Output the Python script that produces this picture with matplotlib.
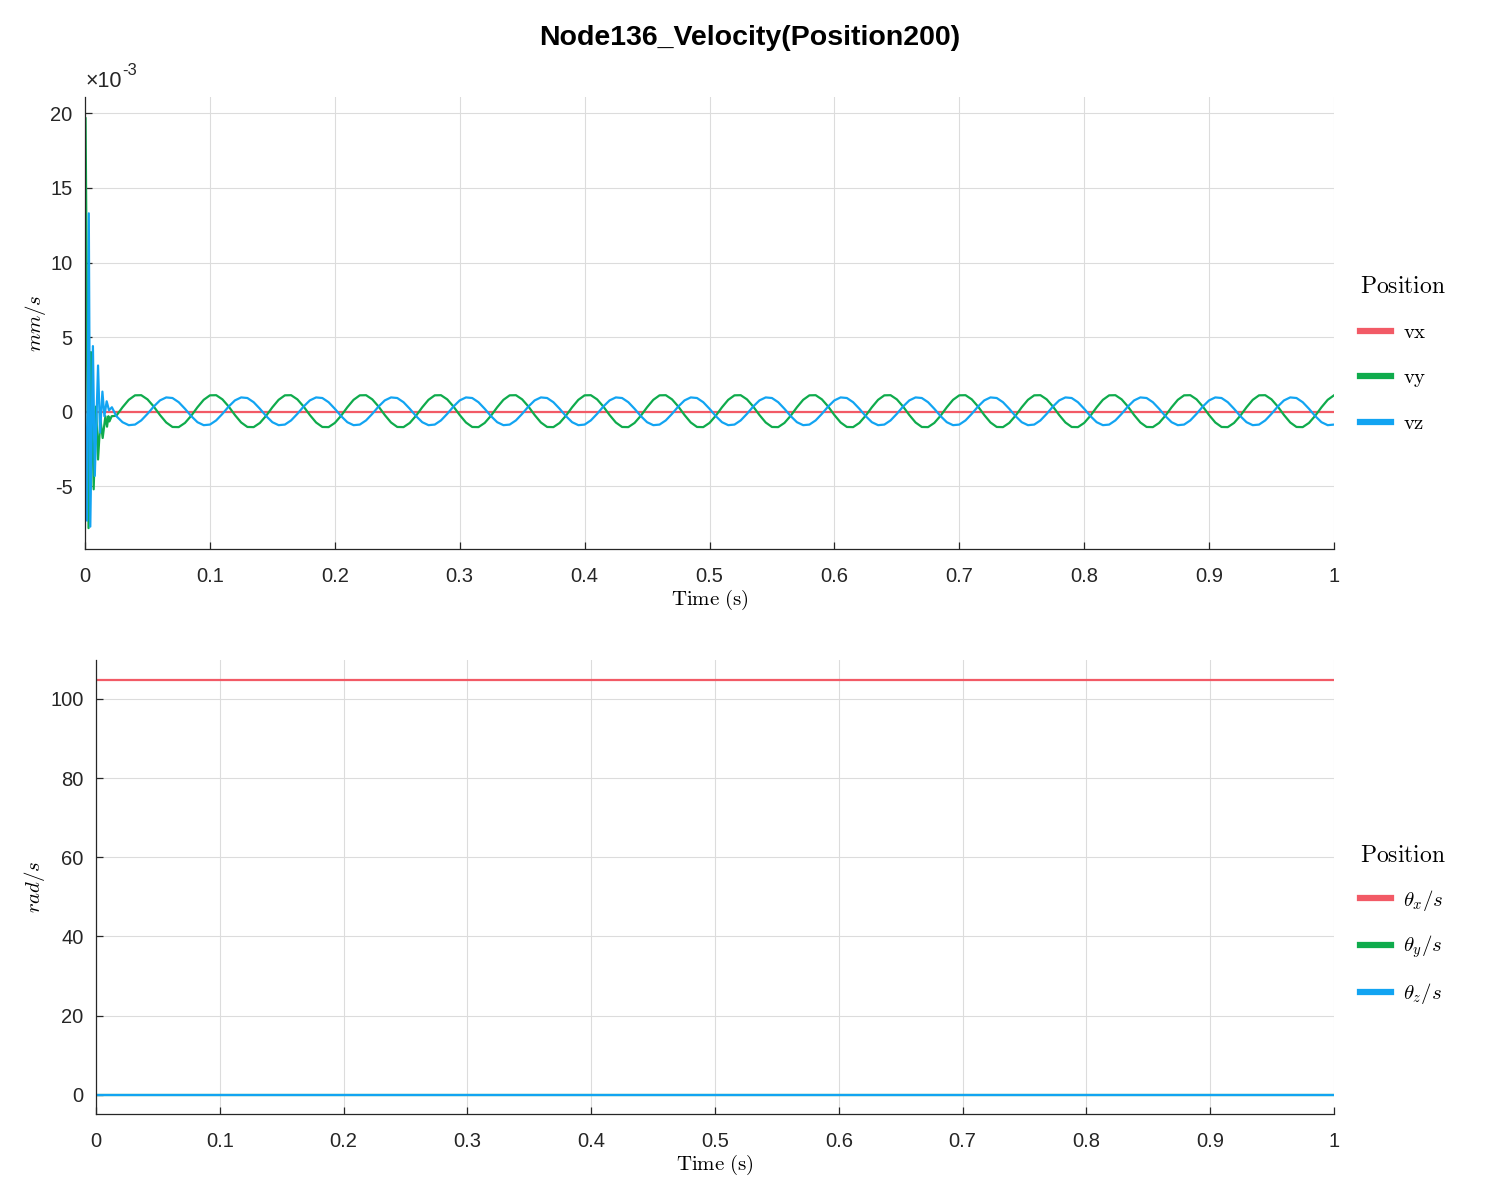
import numpy as np
import matplotlib
matplotlib.use('Agg')
import matplotlib.pyplot as plt
from matplotlib.ticker import FuncFormatter

plt.rcParams['font.family'] = ['Liberation Sans', 'DejaVu Sans']
plt.rcParams['mathtext.fontset'] = 'cm'
plt.rcParams['axes.unicode_minus'] = False

# colours of the three components
c_x = '#f25a66'
c_y = '#0fab4c'
c_z = '#12a4f2'

# ---- translational velocity (values in 1e-3 mm/s) ----
vx_t = [0.0, 1.0]
vx = [0.0, 0.0]

# start-up transient
vy_start_t = [0.0, 0.0004, 0.0028, 0.0047, 0.0069, 0.0088, 0.0104, 0.0123, 0.0141,
              0.0163, 0.0176, 0.0187, 0.0195, 0.0213]
vy_start = [0.0, 19.7, -7.8, 4.0, -5.2, 0.35, -3.2, -0.5, -1.76,
            -0.3, -1.0, -0.3, -0.65, -0.3]
vz_start_t = [0.0, 0.0016, 0.0030, 0.0042, 0.0063, 0.0078, 0.0104, 0.0120, 0.0139,
              0.0155, 0.0173, 0.0192, 0.0215]
vz_start = [0.0, -7.3, 13.3, -7.7, 4.4, -4.3, 3.1, -1.4, 1.35,
            -0.3, 0.7, 0.1, 0.3]

# steady part, read every 0.005 s from t = 0.025 s to 1 s (one row = one period)
wave_t0 = 0.025
wave_dt = 0.005
vy_wave = [
    -0.27, 0.30, 0.80, 1.10, 1.11, 0.83, 0.35, -0.22, -0.72, -1.02, -1.03, -0.75,
    -0.27, 0.30, 0.80, 1.10, 1.11, 0.83, 0.35, -0.22, -0.72, -1.02, -1.03, -0.75,
    -0.27, 0.30, 0.80, 1.10, 1.11, 0.83, 0.35, -0.22, -0.72, -1.02, -1.03, -0.75,
    -0.27, 0.30, 0.80, 1.10, 1.11, 0.83, 0.35, -0.22, -0.72, -1.02, -1.03, -0.75,
    -0.27, 0.30, 0.80, 1.10, 1.11, 0.83, 0.35, -0.22, -0.72, -1.02, -1.03, -0.75,
    -0.27, 0.30, 0.80, 1.10, 1.11, 0.83, 0.35, -0.22, -0.72, -1.02, -1.03, -0.75,
    -0.27, 0.30, 0.80, 1.10, 1.11, 0.83, 0.35, -0.22, -0.72, -1.02, -1.03, -0.75,
    -0.27, 0.30, 0.80, 1.10, 1.11, 0.83, 0.35, -0.22, -0.72, -1.02, -1.03, -0.75,
    -0.27, 0.30, 0.80, 1.10, 1.11, 0.83, 0.35, -0.22, -0.72, -1.02, -1.03, -0.75,
    -0.27, 0.30, 0.80, 1.10, 1.11, 0.83, 0.35, -0.22, -0.72, -1.02, -1.03, -0.75,
    -0.27, 0.30, 0.80, 1.10, 1.11, 0.83, 0.35, -0.22, -0.72, -1.02, -1.03, -0.75,
    -0.27, 0.30, 0.80, 1.10, 1.11, 0.83, 0.35, -0.22, -0.72, -1.02, -1.03, -0.75,
    -0.27, 0.30, 0.80, 1.10, 1.11, 0.83, 0.35, -0.22, -0.72, -1.02, -1.03, -0.75,
    -0.27, 0.30, 0.80, 1.10, 1.11, 0.83, 0.35, -0.22, -0.72, -1.02, -1.03, -0.75,
    -0.27, 0.30, 0.80, 1.10, 1.11, 0.83, 0.35, -0.22, -0.72, -1.02, -1.03, -0.75,
    -0.27, 0.30, 0.80, 1.10, 1.11, 0.83, 0.35, -0.22, -0.72, -1.02, -1.03, -0.75,
    -0.27, 0.30, 0.80, 1.10,
]
vz_wave = [
    -0.29, -0.70, -0.90, -0.86, -0.58, -0.14, 0.35, 0.76, 0.96, 0.92, 0.64, 0.20,
    -0.29, -0.70, -0.90, -0.86, -0.58, -0.14, 0.35, 0.76, 0.96, 0.92, 0.64, 0.20,
    -0.29, -0.70, -0.90, -0.86, -0.58, -0.14, 0.35, 0.76, 0.96, 0.92, 0.64, 0.20,
    -0.29, -0.70, -0.90, -0.86, -0.58, -0.14, 0.35, 0.76, 0.96, 0.92, 0.64, 0.20,
    -0.29, -0.70, -0.90, -0.86, -0.58, -0.14, 0.35, 0.76, 0.96, 0.92, 0.64, 0.20,
    -0.29, -0.70, -0.90, -0.86, -0.58, -0.14, 0.35, 0.76, 0.96, 0.92, 0.64, 0.20,
    -0.29, -0.70, -0.90, -0.86, -0.58, -0.14, 0.35, 0.76, 0.96, 0.92, 0.64, 0.20,
    -0.29, -0.70, -0.90, -0.86, -0.58, -0.14, 0.35, 0.76, 0.96, 0.92, 0.64, 0.20,
    -0.29, -0.70, -0.90, -0.86, -0.58, -0.14, 0.35, 0.76, 0.96, 0.92, 0.64, 0.20,
    -0.29, -0.70, -0.90, -0.86, -0.58, -0.14, 0.35, 0.76, 0.96, 0.92, 0.64, 0.20,
    -0.29, -0.70, -0.90, -0.86, -0.58, -0.14, 0.35, 0.76, 0.96, 0.92, 0.64, 0.20,
    -0.29, -0.70, -0.90, -0.86, -0.58, -0.14, 0.35, 0.76, 0.96, 0.92, 0.64, 0.20,
    -0.29, -0.70, -0.90, -0.86, -0.58, -0.14, 0.35, 0.76, 0.96, 0.92, 0.64, 0.20,
    -0.29, -0.70, -0.90, -0.86, -0.58, -0.14, 0.35, 0.76, 0.96, 0.92, 0.64, 0.20,
    -0.29, -0.70, -0.90, -0.86, -0.58, -0.14, 0.35, 0.76, 0.96, 0.92, 0.64, 0.20,
    -0.29, -0.70, -0.90, -0.86, -0.58, -0.14, 0.35, 0.76, 0.96, 0.92, 0.64, 0.20,
    -0.29, -0.70, -0.90, -0.86,
]

# ---- rotational velocity (rad/s) ----
rot_t = [0.0, 1.0]
theta_x = [104.72, 104.72]
theta_y = [0.0, 0.0]
theta_z = [0.0, 0.0]

x_ticks = [0, 0.1, 0.2, 0.3, 0.4, 0.5, 0.6, 0.7, 0.8, 0.9, 1]
top_yticks = [-5, 0, 5, 10, 15, 20]
bot_yticks = [0, 20, 40, 60, 80, 100]

wave_t = wave_t0 + wave_dt * np.arange(len(vy_wave))
t_y = np.concatenate([vy_start_t, wave_t])
t_z = np.concatenate([vz_start_t, wave_t])
vy_all = np.concatenate([vy_start, vy_wave]) * 1e-3
vz_all = np.concatenate([vz_start, vz_wave]) * 1e-3
vx_all = np.array(vx) * 1e-3

fig = plt.figure(figsize=(15, 12), dpi=100)
ax1 = fig.add_axes([0.0567, 0.5425, 0.8326, 0.3767])
ax2 = fig.add_axes([0.064, 0.0717, 0.8253, 0.3783])

lw = 1.6
ax1.plot(vx_t, vx_all, color=c_x, lw=lw, label=r'$\mathrm{vx}$')
ax1.plot(t_y, vy_all, color=c_y, lw=lw, label=r'$\mathrm{vy}$')
ax1.plot(t_z, vz_all, color=c_z, lw=lw, label=r'$\mathrm{vz}$')

ax2.plot(rot_t, theta_x, color=c_x, lw=lw, label=r'$\theta_x/s$')
ax2.plot(rot_t, theta_y, color=c_y, lw=lw, label=r'$\theta_y/s$')
ax2.plot(rot_t, theta_z, color=c_z, lw=lw, label=r'$\theta_z/s$')

ax1.set_ylim(-9.2e-3, 21.1e-3)
ax1.set_yticks(np.array(top_yticks) * 1e-3)
ax1.yaxis.set_major_formatter(FuncFormatter(lambda v, p: '%g' % round(v * 1e3, 6)))
ax2.set_ylim(-4.8, 109.8)
ax2.set_yticks(bot_yticks)

legend_setup = [(ax1, 0.43, 1.22), (ax2, 0.415, 1.0)]
for ax, leg_y, spacing in legend_setup:
    ax.set_xlim(0, 1)
    ax.set_xticks(x_ticks)
    ax.set_xticklabels(['%g' % v for v in x_ticks])
    ax.grid(True, color='#dcdcdc', lw=0.8)
    ax.set_axisbelow(True)
    for s in ('top', 'right'):
        ax.spines[s].set_visible(False)
    for s in ('left', 'bottom'):
        ax.spines[s].set_color('#262626')
        ax.spines[s].set_linewidth(0.9)
    ax.tick_params(direction='in', length=5, width=0.9, color='#262626',
                   labelsize=14.5, labelcolor='#262626', pad=9)
    ax.tick_params(axis='x', pad=13)
    ax.set_xlabel(r'$\mathrm{Time\ (s)}$', fontsize=15, labelpad=1)
    leg = ax.legend(loc='center left', bbox_to_anchor=(1.006, leg_y), frameon=False,
                    title=r'$\mathrm{Position}$', fontsize=15, title_fontsize=17,
                    handlelength=1.5, handletextpad=0.55, labelspacing=spacing)
    leg._legend_box.align = 'left'
    for h in leg.get_lines():
        h.set_linewidth(4.5)

ax1.set_ylabel(r'$mm/s$', fontsize=15, labelpad=2)
ax2.set_ylabel(r'$rad/s$', fontsize=15, labelpad=2)

# MATLAB style exponent label
ax1.text(0.0, 1.012, '\u00d710', transform=ax1.transAxes, fontsize=15.5,
         color='#262626', ha='left', va='bottom')
ax1.text(0.0295, 1.042, '-3', transform=ax1.transAxes, fontsize=12,
         color='#262626', ha='left', va='bottom')

fig.suptitle('Node136_Velocity(Position200)', fontsize=20.5, fontweight='bold',
             y=0.979)

fig.savefig('out.png', dpi=100)
